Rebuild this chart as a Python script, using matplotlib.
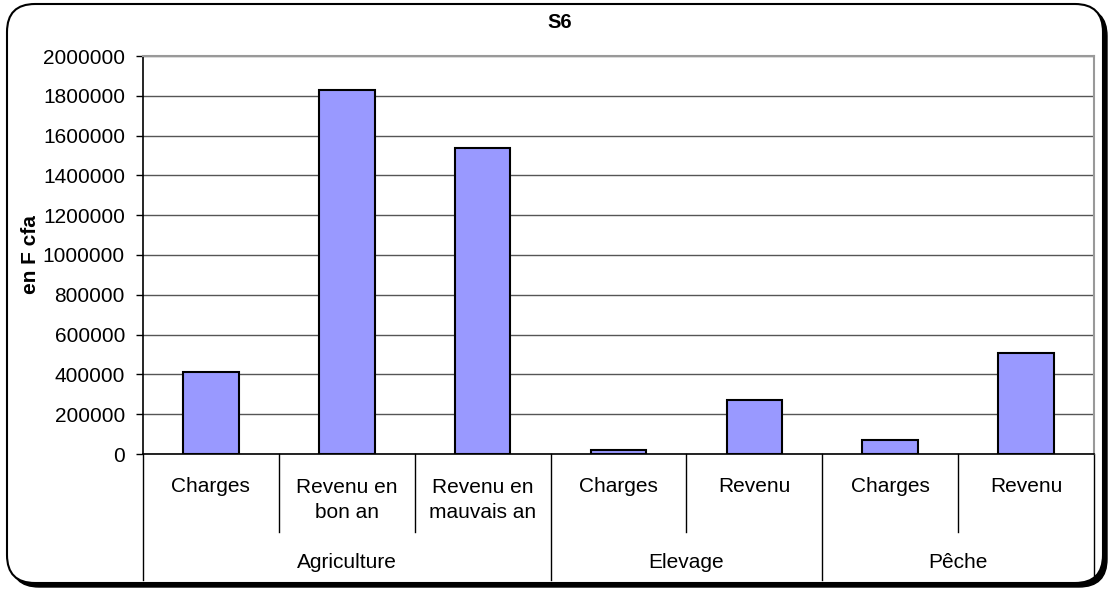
import matplotlib
matplotlib.use('Agg')
matplotlib.rc('font', **{'family': 'sans-serif', 'sans-serif': ['Liberation Sans', 'DejaVu Sans']})
import matplotlib.pyplot as plt
import matplotlib.patches as mpatches
import matplotlib.transforms as mtrans
import numpy as np

# data
categories = ['Charges', 'Revenu en\nbon an', 'Revenu en\nmauvais an',
              'Charges', 'Revenu', 'Charges', 'Revenu']
values = [410000, 1830000, 1540000, 20000, 270000, 70000, 510000]
groups = ['Agriculture', 'Elevage', 'Pêche']
group_sizes = [3, 2, 2]
yticks = np.arange(0, 2000001, 200000)

W, H = 1110, 589
fig = plt.figure(figsize=(W / 100, H / 100), dpi=100)
fig.patch.set_facecolor('white')

# rounded chart border with shadow (pixel coords)
ident = mtrans.IdentityTransform()
shadow = mpatches.FancyBboxPatch((11, 2), 1096, 579, boxstyle="round,pad=0,rounding_size=28",
                                 transform=ident, facecolor='black', edgecolor='black', zorder=-3)
box = mpatches.FancyBboxPatch((7, 6), 1096, 579, boxstyle="round,pad=0,rounding_size=28",
                              transform=ident, facecolor='white', edgecolor='black', lw=1.5, zorder=-2)
fig.patches.extend([shadow, box])

left, right, top, bottom = 143, 1094, 56, 454
ax = fig.add_axes([left / W, (H - bottom) / H, (right - left) / W, (bottom - top) / H])
ax.set_facecolor('white')

x = np.arange(len(values))
ax.bar(x, values, width=0.41, color='#9999FF', edgecolor='black', linewidth=1.5, zorder=3)

ax.set_xlim(-0.5, len(values) - 0.5)
ax.set_ylim(0, 2000000)
ax.set_yticks(yticks)
ax.set_yticklabels([str(v) for v in yticks])
ax.tick_params(axis='y', labelsize=15, length=5, width=1, direction='out', pad=8)
ax.set_xticks([])
ax.grid(True, axis='y', color='#555555', lw=1, zorder=1)

for s in ['top', 'right']:
    ax.spines[s].set_color('#999999')
    ax.spines[s].set_linewidth(1.5)
ax.spines['left'].set_color('black')
ax.spines['bottom'].set_color('black')
ax.spines['left'].set_linewidth(1.2)
ax.spines['bottom'].set_linewidth(1.2)

fig.text(560 / W, 1 - 22 / H, 'S6', fontsize=14.5, fontweight='bold', ha='center', va='center')
ax.set_ylabel('en F cfa', fontsize=15, fontweight='bold', labelpad=2)

# multi level category axis
ah = bottom - top
def fy(py):
    return (bottom - py) / ah

tr = ax.get_xaxis_transform()
for i, lab in enumerate(categories):
    ax.text(i, fy(500) if '\n' in lab else fy(486), lab, transform=tr, ha='center', va='center',
            fontsize=15, linespacing=1.35)

bounds = np.concatenate([[0], np.cumsum(group_sizes)])
for k in range(len(values) + 1):
    ybot = fy(580) if k in bounds else fy(532)
    ax.plot([k - 0.5, k - 0.5], [0, ybot], transform=tr, color='black', lw=1, clip_on=False)

for g, name in enumerate(groups):
    cx = (bounds[g] + bounds[g + 1]) / 2 - 0.5
    ax.text(cx, fy(563), name, transform=tr, ha='center', va='center', fontsize=15)

plt.savefig('out.png', dpi=100)
